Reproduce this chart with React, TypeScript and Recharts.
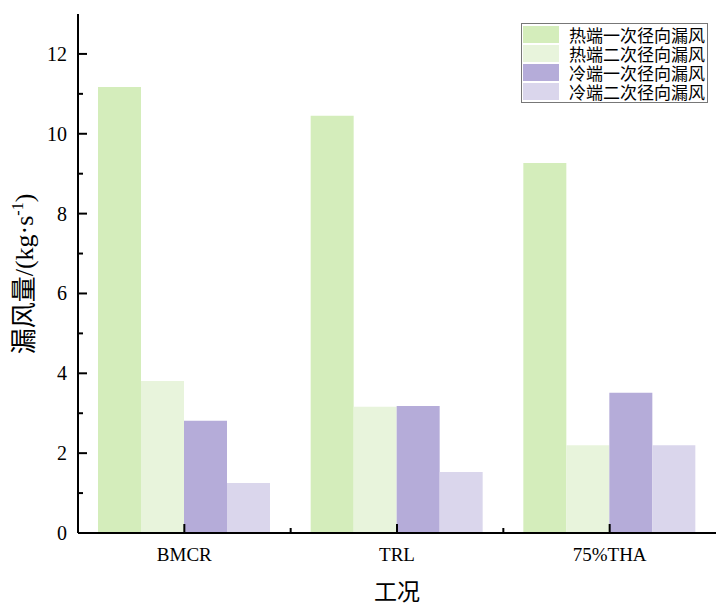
import { Bar, BarChart, XAxis, YAxis } from "recharts";

const categories = ["BMCR", "TRL", "75%THA"];
const hotPrimary = [11.17, 10.45, 9.27];
const hotSecondary = [3.81, 3.16, 2.2];
const coldPrimary = [2.81, 3.18, 3.51];
const coldSecondary = [1.25, 1.53, 2.2];
const yTicks = [0, 1, 2, 3, 4, 5, 6, 7, 8, 9, 10, 11, 12];

const series = [
  { key: "hot1", name: "热端一次径向漏风", color: "#d4edbb" },
  { key: "hot2", name: "热端二次径向漏风", color: "#e8f4dc" },
  { key: "cold1", name: "冷端一次径向漏风", color: "#b5acd9" },
  { key: "cold2", name: "冷端二次径向漏风", color: "#dad6ec" },
];

const data = categories.map((name, i) => ({
  name,
  hot1: hotPrimary[i],
  hot2: hotSecondary[i],
  cold1: coldPrimary[i],
  cold2: coldSecondary[i],
}));

const W = 717;
const H = 605;
const PLOT = { top: 14, right: 1, bottom: 72, left: 78 };
const band = (W - PLOT.left - PLOT.right) / categories.length;
const FONT = "'Liberation Serif', 'Times New Roman', 'Noto Sans CJK SC', serif";

function YTick(props: any) {
  const { x, y, payload } = props;
  const v = payload.value;
  const major = v % 2 === 0;
  return (
    <g>
      <line x1={x} x2={x + (major ? 9 : 5)} y1={y} y2={y} stroke="#000" strokeWidth={2} />
      {major && (
        <text x={x - 11} y={y + 7} textAnchor="end" fontSize={20} fontFamily={FONT} fill="#000">
          {v}
        </text>
      )}
    </g>
  );
}

function XTick(props: any) {
  const { x, y, payload, index } = props;
  return (
    <g>
      <line x1={x} x2={x} y1={y} y2={y - 9} stroke="#000" strokeWidth={2} />
      {index < categories.length - 1 && (
        <line x1={x + band / 2} x2={x + band / 2} y1={y} y2={y - 5} stroke="#000" strokeWidth={2} />
      )}
      <text x={x} y={y + 28} textAnchor="middle" fontSize={19} fontFamily={FONT} fill="#000">
        {payload.value}
      </text>
    </g>
  );
}

function LegendBox() {
  return (
    <div
      style={{
        position: "absolute",
        left: 521,
        top: 23,
        width: 187,
        boxSizing: "border-box",
        border: "1px solid #777",
        background: "#fff",
        padding: "1px 0 1px 1px",
        fontFamily: FONT,
        fontSize: 17,
      }}
    >
      {series.map((s) => (
        <div key={s.key} style={{ display: "flex", alignItems: "center", height: 19 }}>
          <span style={{ width: 36, height: 17, background: s.color, marginRight: 10 }} />
          <span style={{ color: "#000", whiteSpace: "nowrap" }}>{s.name}</span>
        </div>
      ))}
    </div>
  );
}

function YLabel() {
  return (
    <text
      transform="translate(33,274) rotate(-90)"
      textAnchor="middle"
      fontSize={26}
      fontFamily={FONT}
      fill="#000"
    >
      漏风量/(kg·s
      <tspan dy={-10} fontSize={16}>-1</tspan>
      <tspan dy={10}>)</tspan>
    </text>
  );
}

function XLabel() {
  return (
    <text x={397} y={600} textAnchor="middle" fontSize={23} fontFamily={FONT} fill="#000">
      工况
    </text>
  );
}

export default function App() {
  return (
    <div style={{ position: "absolute", left: 0, top: 0, width: W, height: H, background: "#fff" }}>
      <BarChart
        width={W}
        height={H}
        data={data}
        margin={{ top: PLOT.top, right: PLOT.right, bottom: 0, left: 0 }}
        barCategoryGap={20}
        barGap={0}
      >
        <XAxis
          dataKey="name"
          tick={<XTick />}
          tickLine={false}
          tickSize={0}
          tickMargin={0}
          axisLine={{ stroke: "#000", strokeWidth: 2 }}
          height={PLOT.bottom}
          label={{ content: <XLabel /> }}
        />
        <XAxis
          xAxisId="top"
          dataKey="name"
          orientation="top"
          tick={false}
          tickLine={false}
          axisLine={{ stroke: "#000", strokeWidth: 2 }}
          height={0}
        />
        <YAxis
          domain={[0, 13]}
          ticks={yTicks}
          interval={0}
          tick={<YTick />}
          tickLine={false}
          tickSize={0}
          tickMargin={0}
          axisLine={{ stroke: "#000", strokeWidth: 2 }}
          width={PLOT.left}
          label={{ content: <YLabel /> }}
        />
        <YAxis
          yAxisId="right"
          orientation="right"
          domain={[0, 13]}
          tick={false}
          tickLine={false}
          axisLine={{ stroke: "#000", strokeWidth: 2 }}
          width={0}
        />
        {series.map((s) => (
          <Bar key={s.key} dataKey={s.key} name={s.name} fill={s.color} isAnimationActive={false} />
        ))}
      </BarChart>
      <LegendBox />
    </div>
  );
}
